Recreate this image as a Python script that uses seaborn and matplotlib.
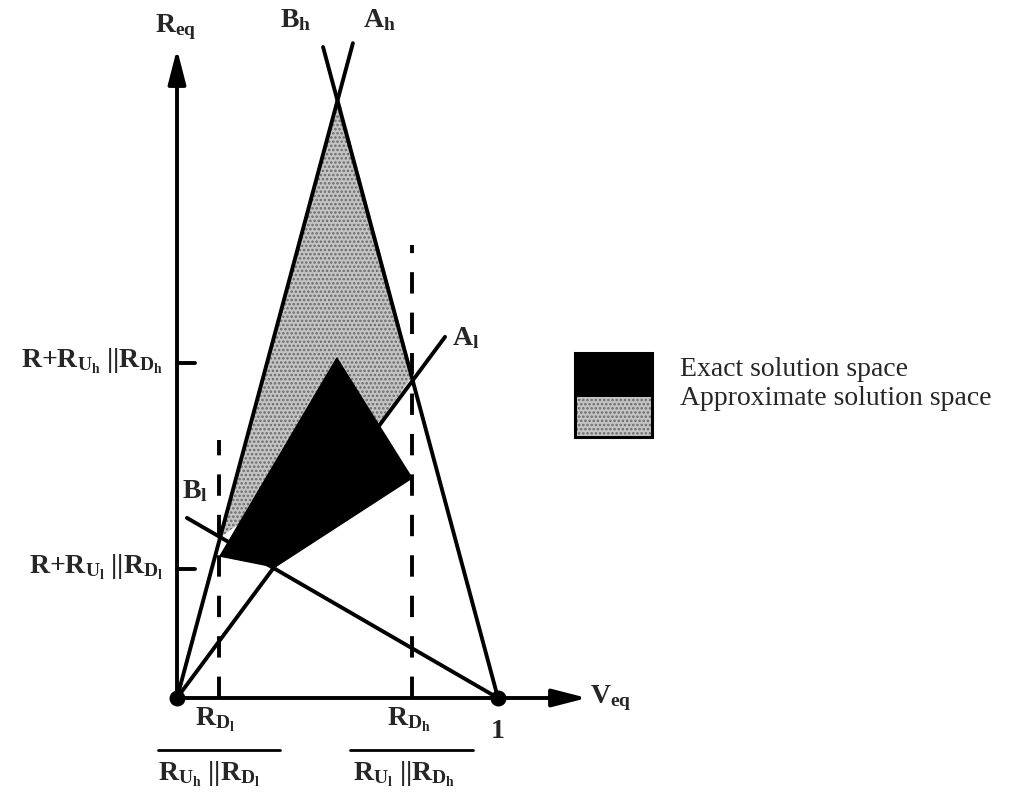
import numpy as np
import pandas as pd
import matplotlib.pyplot as plt
from matplotlib.patches import Polygon, Rectangle
import seaborn as sns

# Bounding lines of the solution space, as (V_eq, R_eq) end points
line_names = ["A_h", "B_h", "A_l", "B_l"]
line_v0 = [0.0, 1.0, 0.0, 0.031]
line_r0 = [0.0, 0.0, 0.0, 0.561]
line_v1 = [0.548, 0.455, 0.835, 1.0]
line_r1 = [2.040, 2.028, 1.125, 0.0]

# Exact solution space (black)
exact_v = [0.134, 0.498, 0.732, 0.305]
exact_r = [0.442, 1.059, 0.685, 0.408]

# Approximate solution space (stippled)
approx_v = [0.502, 0.735, 0.632, 0.137]
approx_r = [1.878, 1.006, 0.860, 0.502]

# Dashed verticals at R_Dl/(R_Uh||R_Dl) and R_Dh/(R_Ul||R_Dh)
bound_v = [0.131, 0.732]
bound_top = [0.804, 1.411]

# R_eq ticks
tick_r = [0.402, 1.044]
tick_labels = [r"$\mathbf{R{+}R_{U_l}\ ||R_{D_l}}$", r"$\mathbf{R{+}R_{U_h}\ ||R_{D_h}}$"]

sns.set_theme(style="white")
plt.rcParams["font.family"] = ["Liberation Serif", "DejaVu Serif"]
plt.rcParams["mathtext.fontset"] = "custom"
plt.rcParams["mathtext.rm"] = "Liberation Serif"
plt.rcParams["mathtext.it"] = "Liberation Serif:italic"
plt.rcParams["mathtext.bf"] = "Liberation Serif:bold"
plt.rcParams["hatch.linewidth"] = 1.2

px = 321.0  # pixels per data unit
fig = plt.figure(figsize=(10.27, 8.01), dpi=100)
ax = fig.add_axes([0, 0, 1, 1])
ax.set_xlim(-177 / px, (1027 - 177) / px)
ax.set_ylim(-103 / px, 698 / px)
ax.axis("off")

lw = 2.8
stipple = "#c4c4c4"

# stippled approximate region, then exact region on top
ax.add_patch(Polygon(np.column_stack([approx_v, approx_r]), closed=True,
                     facecolor=stipple, edgecolor="#6a6a6a", hatch="....", lw=0, zorder=1))
ax.add_patch(Polygon(np.column_stack([exact_v, exact_r]), closed=True,
                     facecolor="black", edgecolor="black", lw=1, zorder=2))

# the four lines
lines = pd.DataFrame({
    "line": line_names * 2,
    "v": line_v0 + line_v1,
    "r": line_r0 + line_r1,
})
sns.lineplot(data=lines, x="v", y="r", units="line", estimator=None, sort=False,
             color="black", lw=lw, ax=ax, zorder=3)

# dashed verticals
for v, top in zip(bound_v, bound_top):
    ax.plot([v, v], [0, top], color="black", lw=lw, dashes=(5.5, 4.9), zorder=3)

# axes with arrows
ax.annotate("", xy=(0, 649 / px), xytext=(0, 0),
            arrowprops=dict(arrowstyle="-|>,head_length=0.7,head_width=0.18",
                            lw=lw, color="black", mutation_scale=30, shrinkA=0, shrinkB=0))
ax.annotate("", xy=(410 / px, 0), xytext=(0, 0),
            arrowprops=dict(arrowstyle="-|>,head_length=0.7,head_width=0.18",
                            lw=lw, color="black", mutation_scale=30, shrinkA=0, shrinkB=0))
ax.scatter([0, 1], [0, 0], s=110, color="black", zorder=5)

# R_eq ticks and labels
fs = 20
for r, lab in zip(tick_r, tick_labels):
    ax.plot([0, 18 / px], [r, r], color="black", lw=lw)
    ax.text(-14 / px, r - 4 / px, lab, ha="right", va="baseline", fontsize=fs)

ax.text(-22 / px, 666 / px, r"$\mathbf{R_{eq}}$", fontsize=fs, va="baseline")
ax.text(413 / px, -5 / px, r"$\mathbf{V_{eq}}$", fontsize=fs, va="baseline")
ax.text(103 / px, 671 / px, r"$\mathbf{B_h}$", fontsize=fs, va="baseline")
ax.text(186 / px, 671 / px, r"$\mathbf{A_h}$", fontsize=fs, va="baseline")
ax.text(5 / px, 200 / px, r"$\mathbf{B_l}$", fontsize=fs, va="baseline")
ax.text(275 / px, 353 / px, r"$\mathbf{A_l}$", fontsize=fs, va="baseline")
ax.text(313 / px, -40 / px, r"$\mathbf{1}$", fontsize=fs, va="baseline")

# V_eq fractions
fracs = [(r"$\mathbf{R_{D_l}}$", r"$\mathbf{R_{U_h}\ ||R_{D_l}}$", 18, -19, -19, 103),
         (r"$\mathbf{R_{D_h}}$", r"$\mathbf{R_{U_l}\ ||R_{D_h}}$", 210, 176, 173, 296)]
for num, den, xn, xd, b0, b1 in fracs:
    ax.text(xn / px, -27 / px, num, fontsize=fs, va="baseline")
    ax.text(xd / px, -82 / px, den, fontsize=fs, va="baseline")
    ax.plot([b0 / px, b1 / px], [-52 / px, -52 / px], color="black", lw=2)

# legend boxes
ax.add_patch(Rectangle((398 / px, 301 / px), 77 / px, 44 / px,
                       facecolor="black", edgecolor="black", lw=2, zorder=4))
ax.add_patch(Rectangle((398 / px, 261 / px), 77 / px, 40 / px,
                       facecolor=stipple, edgecolor="#6a6a6a", hatch="....", lw=0, zorder=4))
ax.add_patch(Rectangle((398 / px, 261 / px), 77 / px, 84 / px,
                       facecolor="none", edgecolor="black", lw=2.2, zorder=5))
ax.text(503 / px, 322 / px, "Exact solution space", fontsize=fs, va="baseline")
ax.text(503 / px, 293 / px, "Approximate solution space", fontsize=fs, va="baseline")

fig.savefig("out.png", dpi=100)
